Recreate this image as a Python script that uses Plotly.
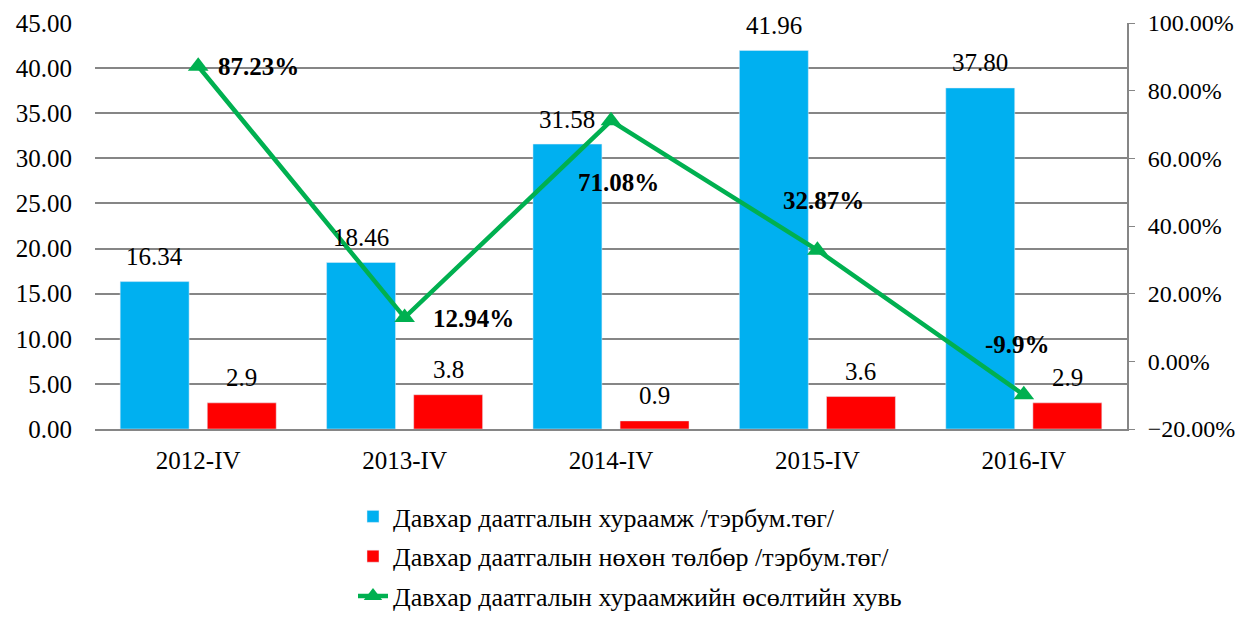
import plotly.graph_objects as go

categories = ["2012-IV", "2013-IV", "2014-IV", "2015-IV", "2016-IV"]
premium = [16.34, 18.46, 31.58, 41.96, 37.80]
claims = [2.9, 3.8, 0.9, 3.6, 2.9]
growth = [87.23, 12.94, 71.08, 32.87, -9.9]
growth_labels = ["87.23%", "12.94%", "71.08%", "32.87%", "-9.9%"]
premium_labels = ["16.34", "18.46", "31.58", "41.96", "37.80"]
claims_labels = ["2.9", "3.8", "0.9", "3.6", "2.9"]

names = ["Давхар даатгалын хураамж /тэрбум.төг/",
         "Давхар даатгалын нөхөн төлбөр /тэрбум.төг/",
         "Давхар даатгалын хураамжийн өсөлтийн хувь"]

FONT = "Liberation Serif, Times New Roman, serif"
FS = 25
xi = list(range(len(categories)))
DOM = [0.3199, 1.0]

fig = go.Figure()
fig.add_trace(go.Bar(x=xi, y=premium, name=names[0], marker_color="#00B0F0",
                     width=0.334, offset=-0.378, legendgroup="a"))
fig.add_trace(go.Bar(x=xi, y=claims, name=names[1], marker_color="#FF0000",
                     width=0.334, offset=0.044, legendgroup="b"))
fig.add_trace(go.Scatter(x=xi, y=growth, name=names[2], yaxis="y2", mode="lines+markers",
                         line=dict(color="#00B050", width=4.5),
                         marker=dict(symbol="triangle-up", size=18, color="#00B050"),
                         legendgroup="c"))

ann = []
for i in xi:
    ann.append(dict(x=i - 0.378 + 0.167, y=premium[i], text=premium_labels[i], showarrow=False,
                    yshift=25, font=dict(size=FS, family=FONT, color="black")))
    ann.append(dict(x=i + 0.044 + 0.167, y=claims[i], text=claims_labels[i], showarrow=False,
                    yshift=25, font=dict(size=FS, family=FONT, color="black")))

gl_shift = [(60, 0), (69, -1), (7, -62), (6, 50), (-6, 50)]
for i in xi:
    ann.append(dict(x=i, y=growth[i], yref="y2", text="<b>" + growth_labels[i] + "</b>",
                    showarrow=False, xshift=gl_shift[i][0], yshift=gl_shift[i][1],
                    font=dict(size=FS, family=FONT, color="black")))

fig.update_layout(
    width=1235, height=612,
    margin=dict(l=87, r=116, t=15, b=0),
    paper_bgcolor="white", plot_bgcolor="white",
    font=dict(family=FONT, size=FS, color="black"),
    barmode="group",
    showlegend=True,
    legend=dict(orientation="v", x=0.25, xanchor="left", y=0.0, yanchor="bottom",
                font=dict(size=26, family=FONT), tracegroupgap=3, traceorder="grouped"),
    xaxis=dict(tickmode="array", tickvals=xi, ticktext=categories, range=[-0.5, 4.5],
               showline=True, linecolor="#868686", linewidth=2, ticks="", showgrid=False,
               tickfont=dict(size=FS), ticklabelstandoff=8, automargin=False),
    yaxis=dict(domain=DOM, range=[0, 45], dtick=5, tickformat=".2f", showgrid=True,
               gridcolor="#868686", gridwidth=1.5, zeroline=False, showline=False,
               ticks="", tickfont=dict(size=FS), ticklabelstandoff=22, automargin=False),
    yaxis2=dict(domain=DOM, range=[-20, 100], dtick=20, overlaying="y", side="right",
                showgrid=False, zeroline=False, showline=True, linecolor="#868686",
                linewidth=2, ticks="outside", ticklen=6, tickcolor="#868686",
                ticksuffix="%", tickformat=".2f", tickfont=dict(size=24),
                ticklabelstandoff=8, automargin=False),
    annotations=ann,
)

fig.write_html("out.html")
